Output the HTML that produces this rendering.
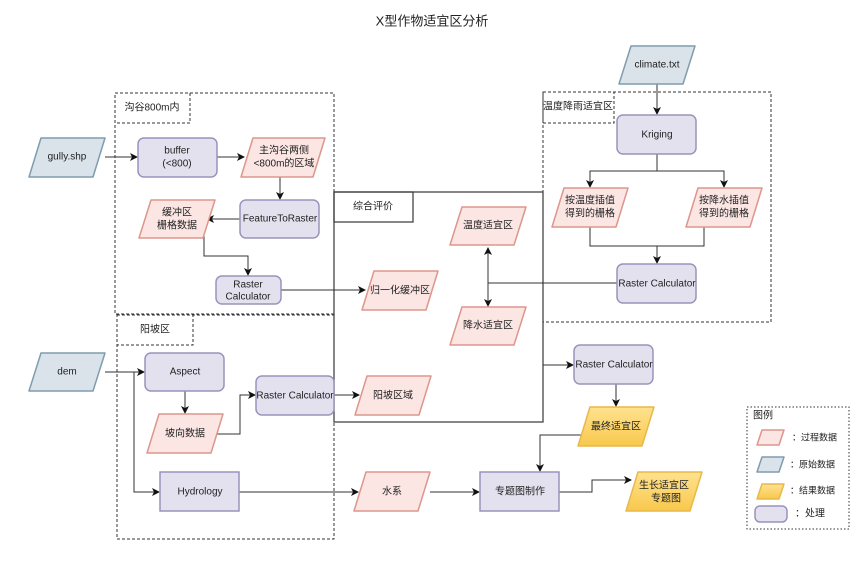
<!DOCTYPE html>
<html><head><meta charset="utf-8"><style>
html,body{margin:0;padding:0;background:#fff;width:865px;height:587px;overflow:hidden}
text{font-family:"Liberation Sans","Noto Sans CJK SC",sans-serif;font-size:10px;fill:#222;text-anchor:middle;dominant-baseline:middle}
.p{fill:#fbe6e4;stroke:#de958c;stroke-width:1.5;stroke-linejoin:round}
.r{fill:#dbe3ea;stroke:#7f9cae;stroke-width:1.5;stroke-linejoin:round}
.y{fill:url(#g);stroke:#e8b84a;stroke-width:1.5;stroke-linejoin:round}
.u{fill:#e4e1ef;stroke:#9a93bb;stroke-width:1.5}
.d{fill:none;stroke:#333;stroke-width:1;stroke-dasharray:3,2}
.l{fill:none;stroke:#333;stroke-width:1}
.s{fill:none;stroke:#444;stroke-width:1.3}
</style></head><body>
<svg width="865" height="587" viewBox="0 0 865 587" xmlns="http://www.w3.org/2000/svg">
<defs>
<linearGradient id="g" x1="0" y1="0" x2="0" y2="1"><stop offset="0" stop-color="#ffe28f"/><stop offset="1" stop-color="#f8c84c"/></linearGradient>
<marker id="a" markerWidth="8" markerHeight="8" refX="7" refY="4" orient="auto" markerUnits="userSpaceOnUse"><path d="M0,0 L8,4 L0,8 L2,4 z" fill="#111"/></marker>
</defs>
<text x="432" y="22" style="font-size:13px">X型作物适宜区分析</text>

<!-- groups -->
<rect class="d" x="115" y="93" width="219" height="221"/>
<rect class="d" x="115" y="93" width="75" height="30"/>
<text x="152" y="108">沟谷800m内</text>
<rect class="d" x="117" y="315" width="217" height="224"/>
<rect class="d" x="117" y="315" width="76" height="30"/>
<text x="155" y="330">阳坡区</text>
<rect class="d" x="543" y="92" width="228" height="230"/>
<rect class="d" x="543" y="92" width="71" height="31"/>
<text x="578" y="107">温度降雨适宜区</text>
<rect class="s" x="334" y="192" width="209" height="230"/>
<rect class="s" x="334" y="192" width="79" height="30"/>
<text x="373" y="207">综合评价</text>

<!-- connectors -->
<g class="l">
<path d="M105,157 H137" marker-end="url(#a)"/>
<path d="M217,157 H244" marker-end="url(#a)"/>
<path d="M280,177 V199" marker-end="url(#a)"/>
<path d="M240,219 H207" marker-end="url(#a)"/>
<path d="M204,236 V256 H248 V275" marker-end="url(#a)"/>
<path d="M281,290 H365" marker-end="url(#a)"/>
<path d="M657,84 V114" marker-end="url(#a)"/>
<path d="M657,154 V171 H590 V187" marker-end="url(#a)"/>
<path d="M657,171 H724 V187" marker-end="url(#a)"/>
<path d="M590,227 V246 H704 V227"/>
<path d="M657,246 V263" marker-end="url(#a)"/>
<path d="M617,283 H488"/>
<path d="M488,283 V248" marker-end="url(#a)"/>
<path d="M488,283 V306" marker-end="url(#a)"/>
<path d="M105,372 H144" marker-end="url(#a)"/>
<path d="M134,372 V492 H159" marker-end="url(#a)"/>
<path d="M185,391 V413" marker-end="url(#a)"/>
<path d="M216,434 H240 V395 H255" marker-end="url(#a)"/>
<path d="M334,395 H359" marker-end="url(#a)"/>
<path d="M239,492 H358" marker-end="url(#a)"/>
<path d="M430,492 H479" marker-end="url(#a)"/>
<path d="M543,365 H573" marker-end="url(#a)"/>
<path d="M616,384 V406" marker-end="url(#a)"/>
<path d="M582,435 H540 V471" marker-end="url(#a)"/>
<path d="M559,492 H592 V480 H631" marker-end="url(#a)"/>
</g>

<!-- raw data -->
<polygon class="r" points="41,138 105,138 93,177 29,177"/><text x="67" y="157">gully.shp</text>
<polygon class="r" points="631,46 695,46 683,84 619,84"/><text x="657" y="65">climate.txt</text>
<polygon class="r" points="41,353 105,353 93,391 29,391"/><text x="67" y="372">dem</text>

<!-- process boxes -->
<rect class="u" x="138" y="138" width="79" height="39" rx="6"/><text x="177" y="151">buffer</text><text x="177" y="164">(&lt;800)</text>
<rect class="u" x="240" y="200" width="79" height="38" rx="6"/><text x="280" y="219">FeatureToRaster</text>
<rect class="u" x="216" y="276" width="65" height="28" rx="6"/><text x="248" y="285">Raster</text><text x="248" y="297">Calculator</text>
<rect class="u" x="617" y="115" width="79" height="39" rx="6"/><text x="657" y="135">Kriging</text>
<rect class="u" x="617" y="264" width="79" height="39" rx="6"/><text x="657" y="284">Raster Calculator</text>
<rect class="u" x="145" y="353" width="79" height="38" rx="6"/><text x="185" y="372">Aspect</text>
<rect class="u" x="256" y="376" width="78" height="39" rx="6"/><text x="295" y="396">Raster Calculator</text>
<rect class="u" x="160" y="472" width="79" height="39"/><text x="200" y="492">Hydrology</text>
<rect class="u" x="480" y="472" width="79" height="39"/><text x="520" y="492">专题图制作</text>
<rect class="u" x="574" y="345" width="79" height="39" rx="6"/><text x="614" y="365">Raster Calculator</text>

<!-- process data -->
<polygon class="p" points="253,138 325,138 313,177 241,177"/><text x="284" y="151">主沟谷两侧</text><text x="284" y="164">&lt;800m的区域</text>
<polygon class="p" points="151,200 215,200 203,238 139,238"/><text x="177" y="213">缓冲区</text><text x="177" y="226">栅格数据</text>
<polygon class="p" points="374,271 438,271 426,310 362,310"/><text x="400" y="291">归一化缓冲区</text>
<polygon class="p" points="462,207 526,207 514,245 450,245"/><text x="488" y="226">温度适宜区</text>
<polygon class="p" points="462,307 526,307 514,345 450,345"/><text x="488" y="326">降水适宜区</text>
<polygon class="p" points="564,188 628,188 616,227 552,227"/><text x="590" y="201">按温度插值</text><text x="590" y="214">得到的栅格</text>
<polygon class="p" points="698,188 762,188 750,227 686,227"/><text x="724" y="201">按降水插值</text><text x="724" y="214">得到的栅格</text>
<polygon class="p" points="159,414 223,414 211,453 147,453"/><text x="185" y="434">坡向数据</text>
<polygon class="p" points="367,376 431,376 419,415 355,415"/><text x="393" y="396">阳坡区域</text>
<polygon class="p" points="366,472 430,472 418,511 354,511"/><text x="392" y="492">水系</text>

<!-- results -->
<polygon class="y" points="590,407 654,407 642,446 578,446"/><text x="616" y="427">最终适宜区</text>
<polygon class="y" points="638,472 702,472 690,511 626,511"/><text x="664" y="486">生长适宜区</text><text x="666" y="499">专题图</text>

<!-- legend -->
<rect class="d" x="747" y="407" width="102" height="122" style="stroke-dasharray:1.5,2"/>
<text x="763" y="416" style="text-anchor:start;font-size:10px" transform="translate(-10,0)">图例</text>
<polygon class="p" points="762,430 784,430 779,445 757,445"/><text x="792" y="438" style="text-anchor:start;font-size:9px">：过程数据</text>
<polygon class="r" points="762,457 784,457 779,472 757,472"/><text x="790" y="465" style="text-anchor:start;font-size:9px">：原始数据</text>
<polygon class="y" points="762,484 784,484 779,499 757,499"/><text x="790" y="491" style="text-anchor:start;font-size:9px">：结果数据</text>
<rect class="u" x="755" y="506" width="32" height="16" rx="5"/><text x="795" y="514" style="text-anchor:start;font-size:10px">：处理</text>
</svg>
</body></html>
